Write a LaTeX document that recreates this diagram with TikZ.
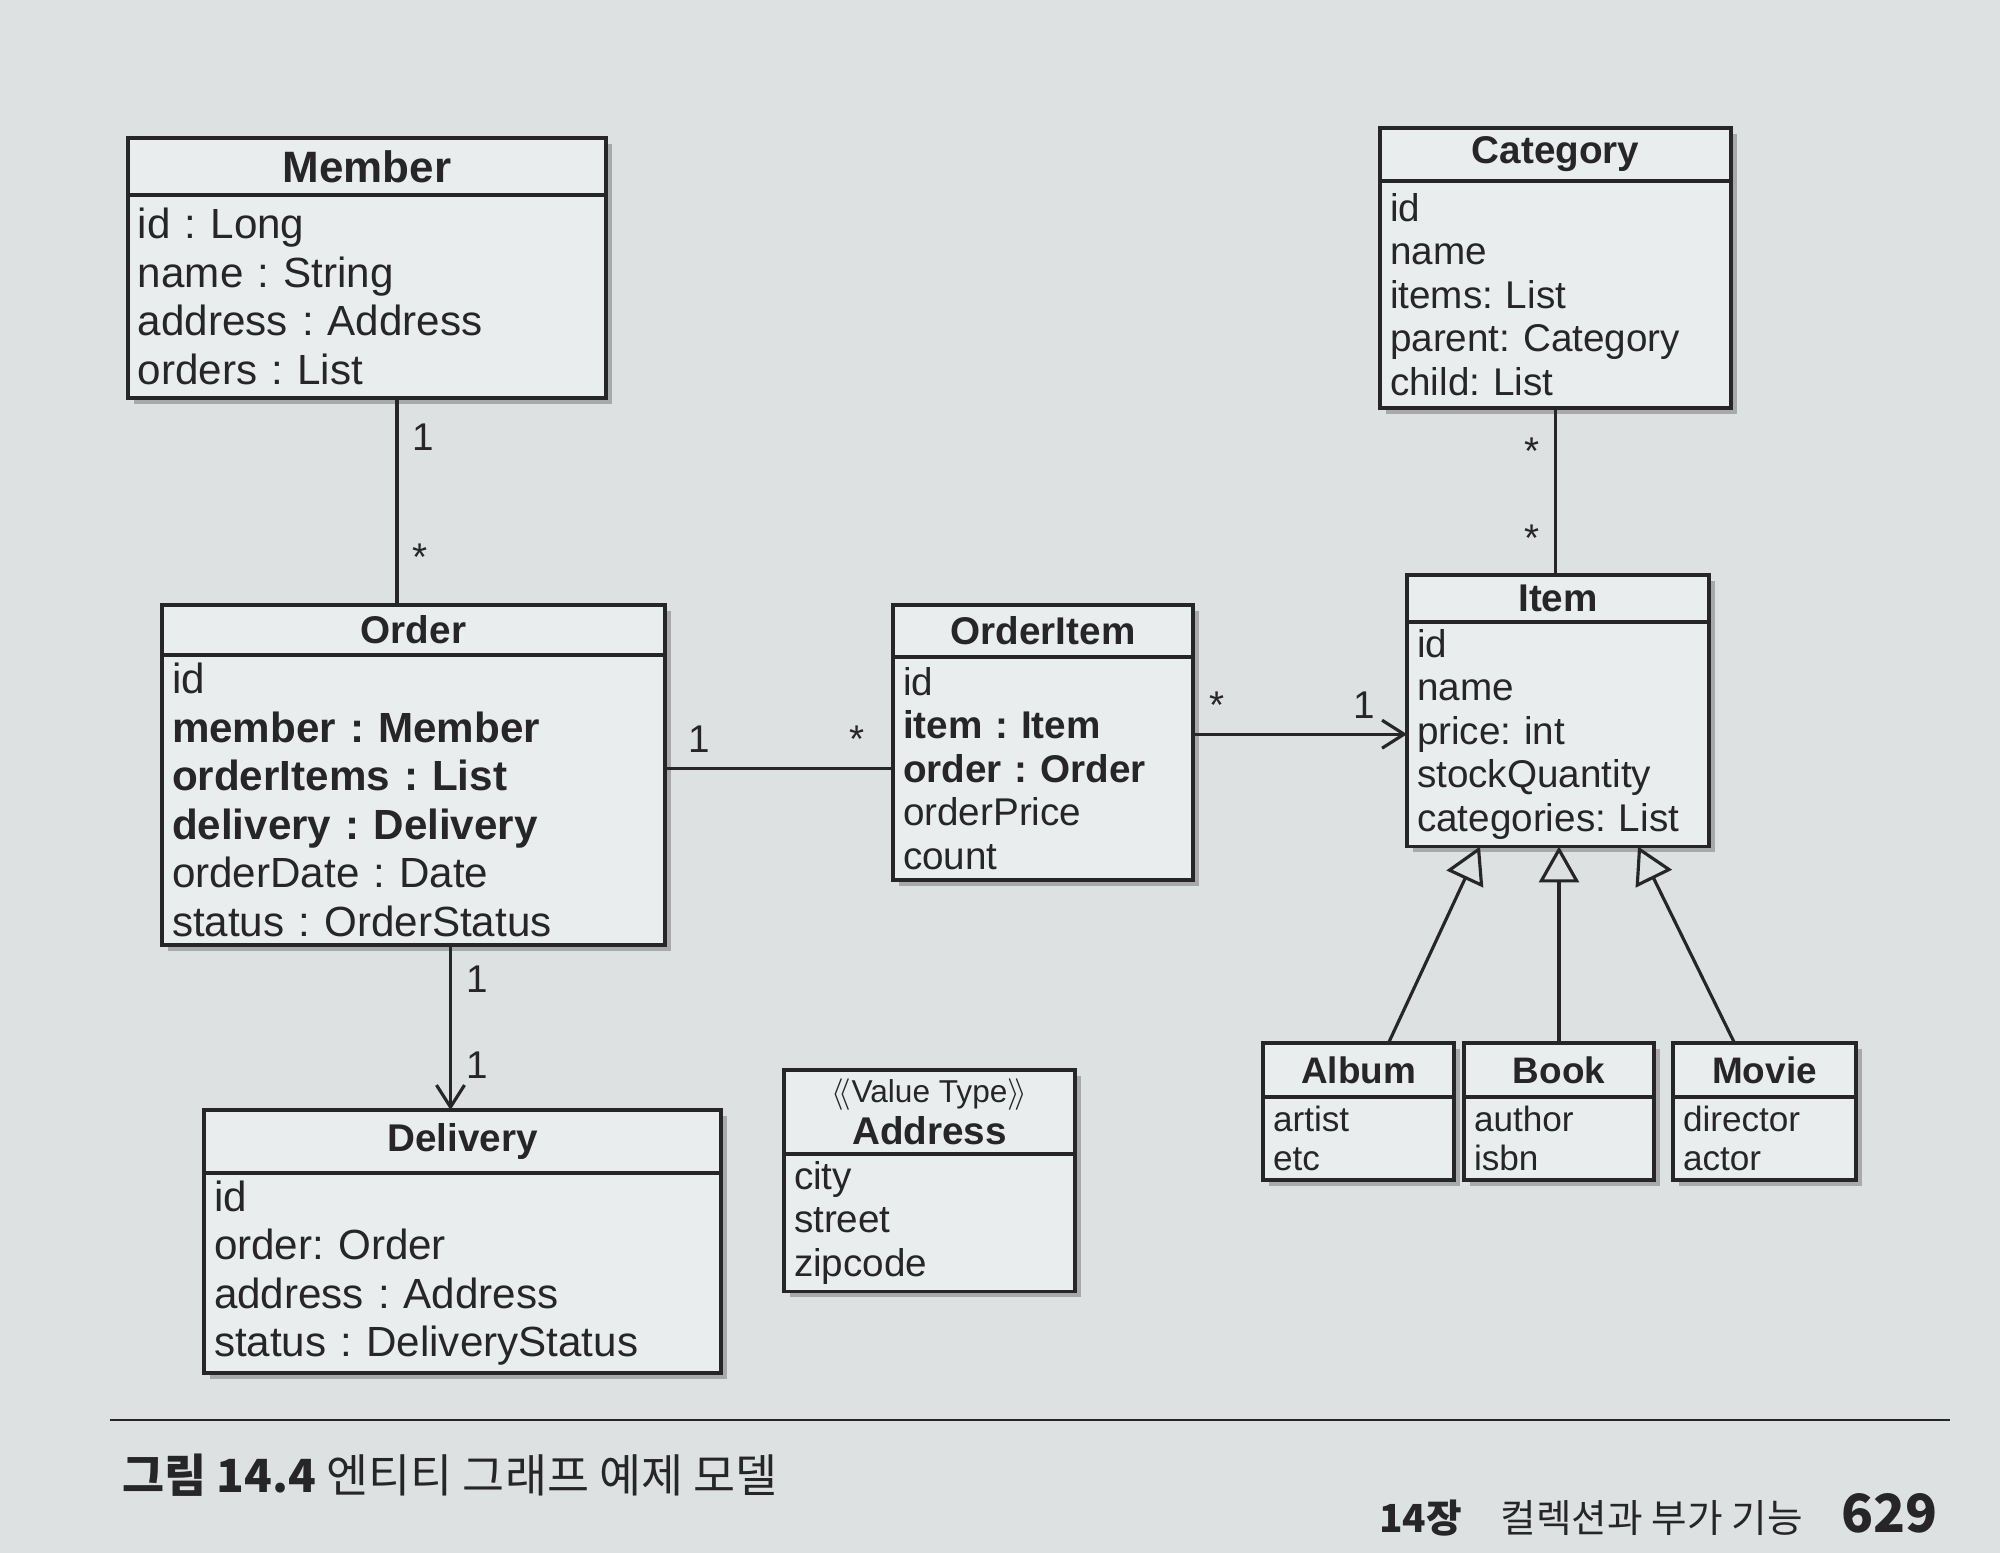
\documentclass[tikz,border=0pt]{standalone}
\usepackage{fontspec}
\setmainfont{Liberation Sans}
\newfontfamily\cjk{Noto Sans CJK KR}
\usetikzlibrary{positioning,shadows,arrows.meta}
\frenchspacing
\definecolor{paper}{RGB}{221,225,226}
\definecolor{boxfill}{RGB}{234,237,237}
\definecolor{ink}{RGB}{38,38,40}
\tikzset{
  cls/.style={draw=ink, fill=boxfill, line width=1pt, text=ink, outer sep=0pt,
    drop shadow={shadow xshift=1.6pt, shadow yshift=-1.6pt, fill=black!55}},
  clsname/.style={cls, anchor=north west, align=center, inner sep=1pt,
    font=\bfseries\fontsize{11}{12}\selectfont},
  clsattr/.style={cls, below=0pt of #1, align=left, inner xsep=0.1cm, inner ysep=2pt,
    font=\fontsize{11}{12.4}\selectfont},
  bigname/.style={font=\bfseries\fontsize{12.5}{14}\selectfont},
  bigattr/.style={font=\fontsize{12}{13.8}\selectfont},
  smallname/.style={font=\bfseries\fontsize{10.5}{12}\selectfont},
  smallattr/.style={font=\fontsize{10}{11.2}\selectfont},
  assoc/.style={draw=ink, line width=0.9pt},
  navi/.style={assoc, -{Straight Barb[length=0.22cm, width=0.28cm]}},
  inherit/.style={assoc, -{Triangle[length=0.36cm, width=0.4cm, fill=paper]}},
  mult/.style={font=\fontsize{11}{13}\selectfont, text=ink, inner sep=4pt}
}
\begin{document}
\begin{tikzpicture}
  \fill[paper] (0,0) rectangle (20,-15.53);
  \useasboundingbox (0,0) rectangle (20,-15.53);

  \node[clsname, bigname, minimum width=4.78cm, minimum height=0.57cm] (member) at (1.28,-1.38) {Member};
  \node[clsattr=member, bigattr, text width=4.58cm, minimum height=2.03cm] (memberattr)
    {id : Long\\ name : String\\ address : Address\\ orders : List};

  \node[clsname, minimum width=5.03cm, minimum height=0.5cm] (order) at (1.62,-6.05) {Order};
  \node[clsattr=order, bigattr, text width=4.83cm, minimum height=2.9cm] (orderattr)
    {id\\ \textbf{member : Member}\\ \textbf{orderItems : List}\\ \textbf{delivery : Delivery}\\ orderDate : Date\\ status : OrderStatus};

  \node[clsname, minimum width=3.0cm, minimum height=0.52cm] (orderitem) at (8.93,-6.05) {OrderItem};
  \node[clsattr=orderitem, text width=2.8cm, minimum height=2.23cm] (orderitemattr)
    {id\\ \textbf{item : Item}\\ \textbf{order : Order}\\ orderPrice\\ count};

  \node[clsname, minimum width=3.51cm, minimum height=0.53cm] (category) at (13.8,-1.28) {Category};
  \node[clsattr=category, text width=3.31cm, minimum height=2.27cm] (categoryattr)
    {id\\ name\\ items: List\\ parent: Category\\ child: List};

  \node[clsname, minimum width=3.02cm, minimum height=0.47cm] (item) at (14.07,-5.75) {Item};
  \node[clsattr=item, text width=2.82cm, minimum height=2.22cm] (itemattr)
    {id\\ name\\ price: int\\ stockQuantity\\ categories: List};

  \node[clsname, minimum width=5.17cm, minimum height=0.63cm] (delivery) at (2.04,-11.1) {Delivery};
  \node[clsattr=delivery, bigattr, text width=4.97cm, minimum height=2.0cm] (deliveryattr)
    {id\\ order: Order\\ address : Address\\ status : DeliveryStatus};

  \node[clsname, minimum width=2.91cm, minimum height=0.84cm] (address) at (7.84,-10.7)
    {{\mdseries\fontsize{9}{10}\selectfont$\langle\!\langle$Value Type$\rangle\!\rangle$}\\ Address};
  \node[clsattr=address, text width=2.71cm, minimum height=1.36cm] (addressattr)
    {city\\ street\\ zipcode};

  \node[clsname, smallname, minimum width=1.91cm, minimum height=0.54cm] (album) at (12.63,-10.43) {Album};
  \node[clsattr=album, smallattr, text width=1.71cm, minimum height=0.83cm] (albumattr)
    {artist\\ etc};

  \node[clsname, smallname, minimum width=1.9cm, minimum height=0.54cm] (book) at (14.64,-10.43) {Book};
  \node[clsattr=book, smallattr, text width=1.7cm, minimum height=0.83cm] (bookattr)
    {author\\ isbn};

  \node[clsname, smallname, minimum width=1.83cm, minimum height=0.54cm] (movie) at (16.73,-10.43) {Movie};
  \node[clsattr=movie, smallattr, text width=1.63cm, minimum height=0.83cm] (movieattr)
    {director\\ actor};

  \draw[assoc] ([xshift=0.3cm]memberattr.south) -- ([xshift=0.3cm]memberattr.south |- order.north)
    node[mult, pos=0.19, right] {1} node[mult, pos=0.77, right] {*};
  \draw[assoc] (orderitemattr.west -| orderattr.east) -- (orderitemattr.west)
    node[mult, pos=0.15, above] {1} node[mult, pos=0.84, above] {*};
  \draw[navi] (orderitemattr.east |- itemattr.west) -- (itemattr.west)
    node[mult, pos=0.11, above] {*} node[mult, pos=0.8, above] {1};
  \draw[assoc] (categoryattr.south) -- (categoryattr.south |- item.north)
    node[mult, pos=0.26, left] {*} node[mult, pos=0.78, left] {*};
  \draw[navi] ([xshift=0.37cm]orderattr.south) -- ([xshift=0.37cm]orderattr.south |- delivery.north)
    node[mult, pos=0.21, right] {1} node[mult, pos=0.73, right] {1};

  \draw[inherit] ([xshift=0.3cm]album.north) -- ([xshift=-0.78cm]itemattr.south);
  \draw[inherit] (book.north) -- (book.north |- itemattr.south);
  \draw[inherit] ([xshift=-0.3cm]movie.north) -- ([xshift=0.8cm]itemattr.south);

  \draw[ink, line width=0.8pt] (1.1,-14.2) -- (19.5,-14.2);
  \node[anchor=west, text=ink, font=\cjk\fontsize{13}{15}\selectfont] (caption) at (1.1,-14.75)
    {\bfseries 그림 14.4\mdseries\ 엔티티 그래프 예제 모델};
  \node[anchor=east, text=ink, font=\cjk\fontsize{11}{13}\selectfont] (footer) at (19.5,-15.15)
    {\bfseries 14장\mdseries\quad 컬렉션과 부가 기능\quad{\bfseries\fontsize{15}{17}\selectfont 629}};
\end{tikzpicture}
\end{document}
